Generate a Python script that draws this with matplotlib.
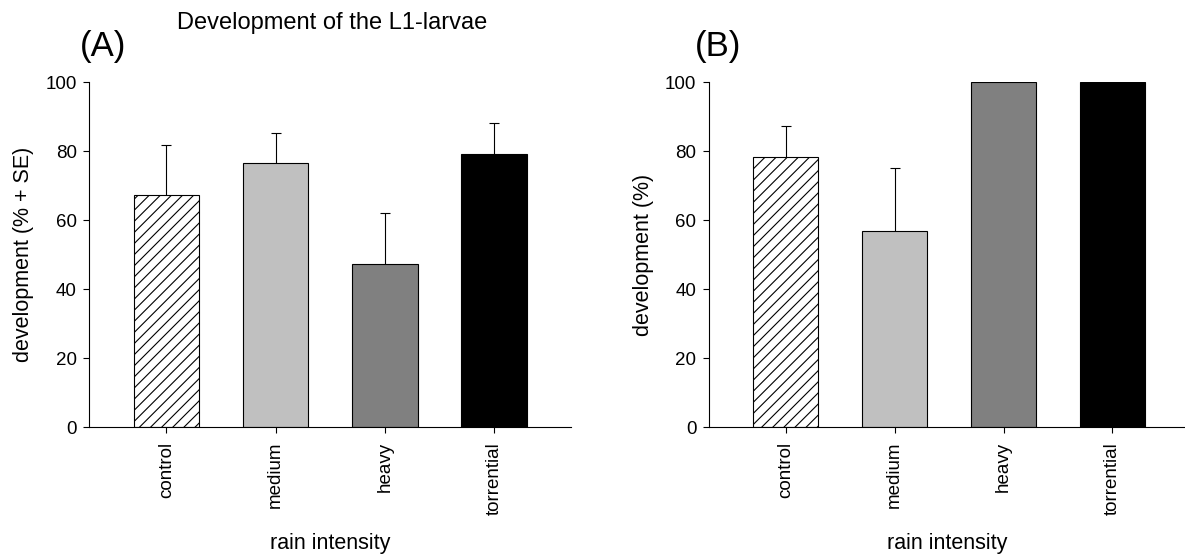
import matplotlib
matplotlib.use('Agg')
import matplotlib.pyplot as plt
import numpy as np

plt.rcParams['font.family'] = ['Liberation Sans', 'DejaVu Sans']
plt.rcParams['hatch.linewidth'] = 0.8

categories = ['control', 'medium', 'heavy', 'torrential']

# panel A: development of L1-larvae, mean and SE
dev_a = [67.3, 76.6, 47.4, 79.1]
se_a = [14.5, 8.8, 14.6, 9.0]

# panel B: development (%), no SE for the 100 % groups
dev_b = [78.4, 56.9, 100, 100]
se_b = [9.0, 18.3, 0, 0]

y_ticks = [0, 20, 40, 60, 80, 100]

bar_colors = ['white', '#c0c0c0', '#808080', 'black']
bar_hatches = ['///', None, None, None]


def draw_panel(ax, values, errors, ylabel, xmax):
    x = np.arange(len(categories))
    bars = ax.bar(x, values, width=0.6, color=bar_colors,
                  edgecolor='black', linewidth=0.8, zorder=2)
    for patch, h in zip(bars, bar_hatches):
        if h:
            patch.set_hatch(h)

    # upper error bars only
    errors = np.array(errors)
    has_err = errors > 0
    if has_err.any():
        xe = x[has_err]
        ye = np.array(values)[has_err]
        ee = errors[has_err]
        _, caps, _ = ax.errorbar(xe, ye, yerr=[np.zeros_like(ee), ee],
                                 fmt='none', ecolor='black', elinewidth=0.8,
                                 capsize=3.5, capthick=0.8, zorder=3)
        caps[0].set_visible(False)

    ax.set_xlim(-0.705, xmax)
    ax.set_ylim(0, 100)
    ax.set_yticks(y_ticks)
    ax.set_xticks(x)
    ax.set_xticklabels(categories, rotation=90)

    for side in ['top', 'right']:
        ax.spines[side].set_visible(False)
    for side in ['left', 'bottom']:
        ax.spines[side].set_linewidth(0.8)
    ax.spines['bottom'].set_clip_on(False)

    ax.tick_params(axis='both', direction='out', length=4, width=0.8,
                   labelsize=13.5)
    ax.tick_params(axis='y', pad=5)
    ax.tick_params(axis='x', pad=6.5)

    ax.set_ylabel(ylabel, fontsize=15.5)
    ax.set_xlabel('rain intensity', fontsize=15.5)


fig = plt.figure(figsize=(11.85, 5.56), dpi=100)

ax_a = fig.add_axes([0.0754, 0.2315, 0.4062, 0.6205])
draw_panel(ax_a, dev_a, se_a, 'development (% + SE)', 3.70)
ax_a.yaxis.set_label_coords(-0.114, 0.5)
ax_a.xaxis.set_label_coords(0.5, -0.306)

ax_b = fig.add_axes([0.5983, 0.2315, 0.4017, 0.6205])
draw_panel(ax_b, dev_b, se_b, 'development (%)', 3.667)
ax_b.yaxis.set_label_coords(-0.1155, 0.5)
ax_b.xaxis.set_label_coords(0.5, -0.306)

fig.text(0.2802, 0.9586, 'Development of the L1-larvae', fontsize=17,
         ha='center', va='center')
fig.text(0.0869, 0.9155, '(A)', fontsize=25, ha='center', va='center')
fig.text(0.6062, 0.9155, '(B)', fontsize=25, ha='center', va='center')

fig.savefig('out.png', dpi=100)
